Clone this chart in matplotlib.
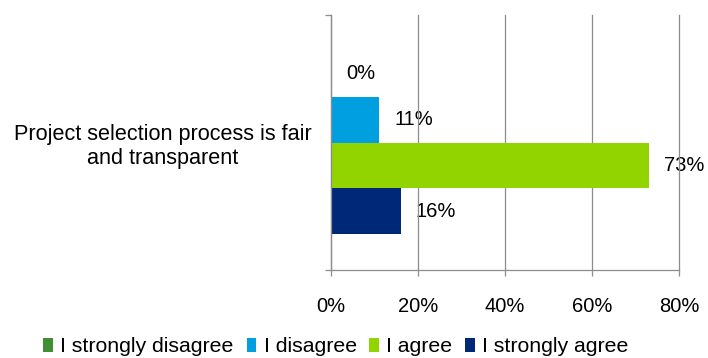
import matplotlib
matplotlib.use("Agg")
import matplotlib.pyplot as plt
from matplotlib.ticker import FixedLocator

plt.rcParams['font.family'] = ['Liberation Sans', 'DejaVu Sans']

category = "Project selection process is fair\nand transparent"
series = ["I strongly disagree", "I disagree", "I agree", "I strongly agree"]
values = [0, 11, 73, 16]
colors = ["#3F8F34", "#00A0E0", "#92D400", "#002878"]
x_ticks = [0, 20, 40, 60, 80]
x_tick_labels = ["0%", "20%", "40%", "60%", "80%"]

fig = plt.figure(figsize=(7.08, 3.58), dpi=100)
ax = fig.add_axes([331 / 708, 88 / 358, 348 / 708, 255 / 358])

grid_color = "#8C8C8C"
bar_h = 0.18
n = len(series)
handles = []
for i, (name, val, col) in enumerate(zip(series, values, colors)):
    y = (i - (n - 1) / 2) * bar_h
    b = ax.barh(y, val, height=bar_h, color=col, label=name, zorder=3)
    handles.append(b)
    ax.annotate(f"{val}%", xy=(val, y), xytext=(11, 0), textcoords="offset points",
                ha="left", va="center", fontsize=14.5, color="#000000", zorder=1.5)

ax.set_xlim(0, 80)
ax.set_ylim(0.5, -0.5)

ax.set_xticks(x_ticks)
ax.set_xticklabels(x_tick_labels, fontsize=14.5)
ax.tick_params(axis="x", direction="out", length=4.3, width=0.9, color=grid_color, pad=15)

ax.set_yticks([0])
ax.set_yticklabels([category], fontsize=15.6, multialignment="center")
ax.tick_params(axis="y", which="major", length=0, pad=14)
ax.yaxis.set_minor_locator(FixedLocator([-0.5, 0.5]))
ax.tick_params(axis="y", which="minor", direction="out", length=4.3, width=0.9, color=grid_color)

ax.grid(axis="x", color=grid_color, linewidth=0.9)
for gl in ax.get_xgridlines():
    gl.set_clip_on(False)
    gl.set_zorder(2)
for side in ("top", "right"):
    ax.spines[side].set_visible(False)
for side in ("left", "bottom"):
    ax.spines[side].set_color(grid_color)
    ax.spines[side].set_linewidth(0.9)
    ax.spines[side].set_zorder(3.5)

fig.legend(handles=handles, labels=series, loc="center", bbox_to_anchor=(336 / 708, 11 / 358),
           ncol=4, frameon=False, fontsize=15.3, handlelength=0.45, handleheight=0.65,
           handletextpad=0.35, columnspacing=0.6, borderaxespad=0, borderpad=0)

fig.savefig("out.png", dpi=100)
